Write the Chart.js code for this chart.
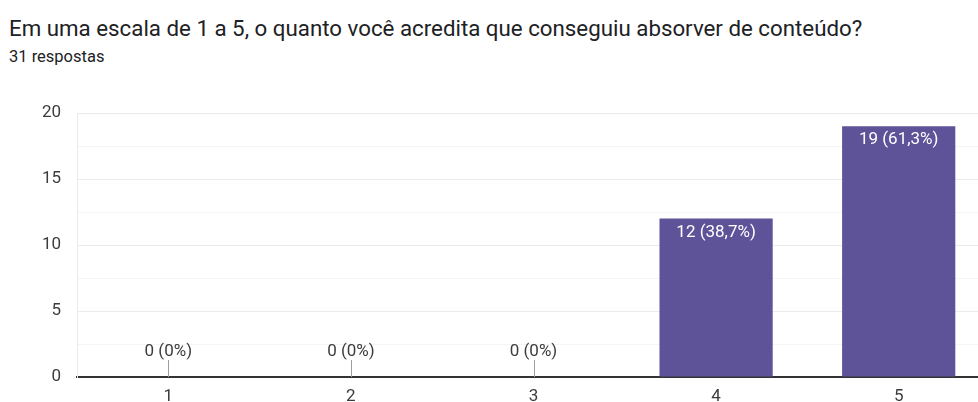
<!DOCTYPE html>
<html>
<head>
<meta charset="utf-8">
<script src="https://cdn.jsdelivr.net/npm/chart.js@4"></script>
<style>
  html, body { margin: 0; padding: 0; background: #fff; overflow: hidden; width: 978px; height: 402px; }
  .title { position: absolute; left: 9px; top: 15px; font: 22.3px Roboto, sans-serif; color: #202124; white-space: nowrap; }
  .sub { position: absolute; left: 9px; top: 47px; font: 16.5px Roboto, sans-serif; color: #202124; }
  .wrap { position: absolute; left: 0; top: 0; width: 990px; height: 420px; }
</style>
</head>
<body>
<div class="title">Em uma escala de 1 a 5, o quanto você acredita que conseguiu absorver de conteúdo?</div>
<div class="sub">31 respostas</div>
<div class="wrap"><canvas id="chart"></canvas></div>
<script>
// valores
const categories = ['1', '2', '3', '4', '5'];
const counts = [0, 0, 0, 12, 19];
const percents = ['0%', '0%', '0%', '38,7%', '61,3%'];

// rótulos das barras: branco dentro, cinza acima quando zero
const barLabels = {
    id: 'barLabels',
    afterDatasetsDraw(chart) {
        const ctx = chart.ctx;
        const meta = chart.getDatasetMeta(0);
        ctx.save();
        ctx.font = '17px Roboto, sans-serif';
        ctx.textAlign = 'center';
        ctx.textBaseline = 'middle';
        meta.data.forEach((bar, i) => {
            const text = counts[i] + ' (' + percents[i] + ')';
            if (counts[i] > 0) {
                ctx.fillStyle = '#fff';
                ctx.fillText(text, bar.x, bar.y + 14);
            } else {
                ctx.strokeStyle = '#9e9e9e';
                ctx.lineWidth = 1;
                ctx.beginPath();
                ctx.moveTo(Math.round(bar.x) + 0.5, bar.y);
                ctx.lineTo(Math.round(bar.x) + 0.5, bar.y - 17);
                ctx.stroke();
                ctx.fillStyle = '#3c3c3c';
                ctx.fillText(text, bar.x, bar.y - 25);
            }
        });
        ctx.restore();
    }
};

new Chart(document.getElementById('chart'), {
    type: 'bar',
    data: {
        labels: categories,
        datasets: [{
            data: counts,
            backgroundColor: '#5e5399',
            borderWidth: 0,
            barPercentage: 0.62,
            categoryPercentage: 1
        }]
    },
    options: {
        responsive: true,
        maintainAspectRatio: false,
        animation: false,
        layout: { padding: { top: 113, left: 0, right: 0, bottom: 0 } },
        plugins: {
            legend: { display: false },
            tooltip: { enabled: false }
        },
        scales: {
            x: {
                grid: { display: false, drawTicks: false },
                border: { display: true, color: '#333', width: 2 },
                ticks: { color: '#3c3c3c', font: { family: 'Roboto', size: 17 }, padding: 10 },
                afterFit: scale => { scale.height = 43; }
            },
            y: {
                min: 0,
                max: 20,
                grid: {
                    drawTicks: false,
                    color: c => (c.tick.value % 5 === 0 ? '#ebebeb' : '#f4f4f4'),
                    lineWidth: 1
                },
                border: { display: true, color: '#ebebeb', width: 1 },
                ticks: {
                    stepSize: 2.5,
                    autoSkip: false,
                    color: '#3c3c3c',
                    font: { family: 'Roboto', size: 17 },
                    padding: 16,
                    callback: v => (v % 5 === 0 ? v : '')
                },
                afterFit: scale => { scale.width = 77; }
            }
        }
    },
    plugins: [barLabels]
});
</script>
</body>
</html>
